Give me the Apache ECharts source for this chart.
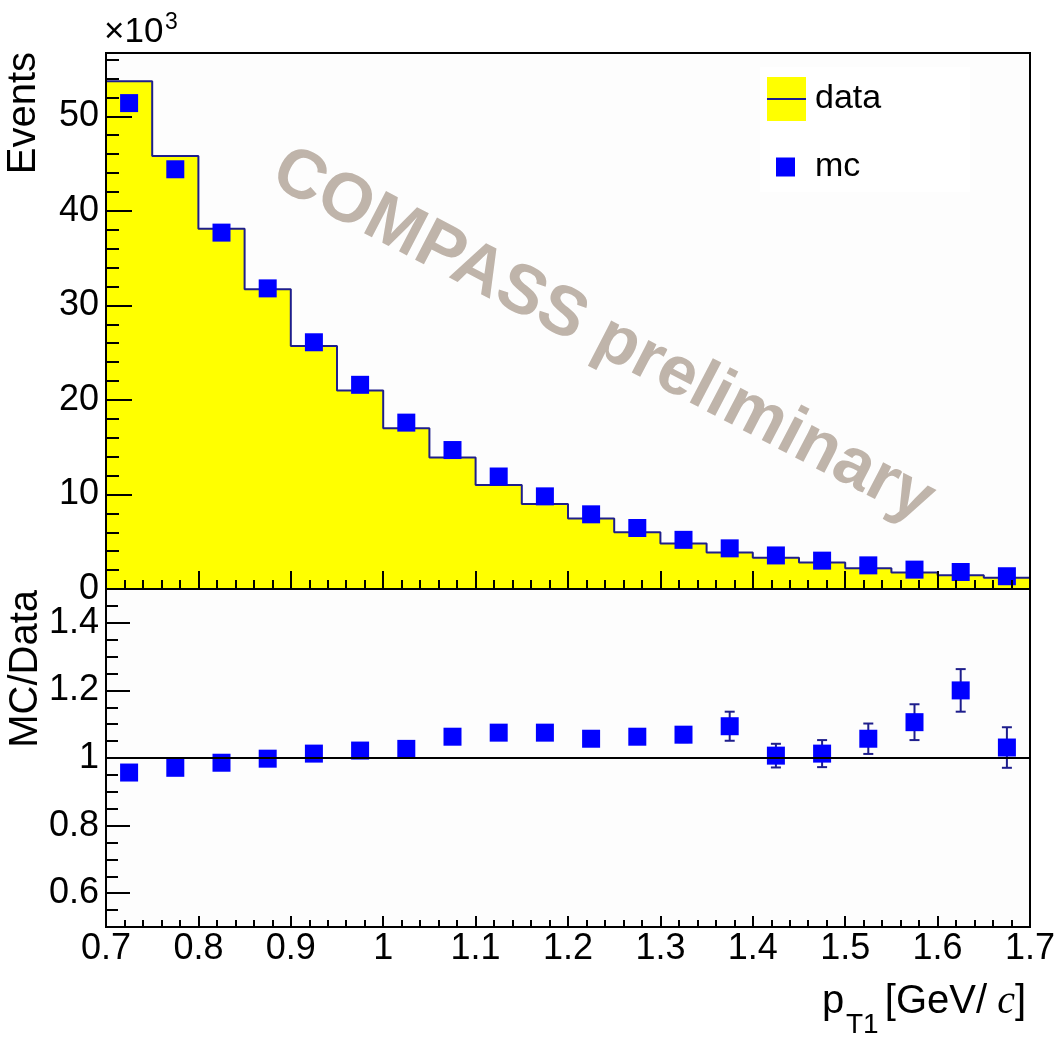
<!DOCTYPE html>
<html>
<head>
<meta charset="utf-8">
<script src="https://cdn.jsdelivr.net/npm/echarts@6/dist/echarts.min.js"></script>
<style>
  html, body { margin: 0; padding: 0; background: #ffffff; }
  #chart { width: 1059px; height: 1039px; }
</style>
</head>
<body>
<div id="chart"></div>
<script>
// p_T1 binning: 20 bins of 0.05 GeV/c between 0.7 and 1.7
const binLow    = [0.70, 0.75, 0.80, 0.85, 0.90, 0.95, 1.00, 1.05, 1.10, 1.15,
                   1.20, 1.25, 1.30, 1.35, 1.40, 1.45, 1.50, 1.55, 1.60, 1.65];
const binCenter = [0.725, 0.775, 0.825, 0.875, 0.925, 0.975, 1.025, 1.075, 1.125, 1.175,
                   1.225, 1.275, 1.325, 1.375, 1.425, 1.475, 1.525, 1.575, 1.625, 1.675];
const binHighEdge = 1.7;

// Event counts, in units of 10^3
const dataCounts = [53.7, 45.8, 38.1, 31.7, 25.7, 21.0, 17.0, 13.9, 11.0, 9.0,
                    7.45, 6.0, 4.8, 3.85, 3.3, 2.8, 2.2, 1.75, 1.45, 1.2];
const mcCounts   = [51.4, 44.4, 37.7, 31.8, 26.1, 21.6, 17.6, 14.7, 11.9, 9.8,
                    7.9, 6.45, 5.2, 4.3, 3.55, 3.0, 2.5, 2.05, 1.8, 1.35];

// MC/Data ratio and its statistical uncertainty
const ratio    = [0.957, 0.971, 0.986, 0.998, 1.013, 1.022, 1.027, 1.063, 1.075, 1.075,
                  1.057, 1.063, 1.069, 1.094, 1.007, 1.013, 1.057, 1.106, 1.200, 1.031];
const ratioErr = [0.004, 0.005, 0.005, 0.006, 0.007, 0.008, 0.009, 0.010, 0.012, 0.014,
                  0.016, 0.019, 0.022, 0.043, 0.035, 0.040, 0.045, 0.053, 0.063, 0.060];

// Axis tick values
const eventsTicks = [0, 10, 20, 30, 40, 50];
const ratioTicks  = [0.6, 0.8, 1, 1.2, 1.4];

const FONT = '"Liberation Sans", Arial, Helvetica, sans-serif';
const NAVY = '#1e1e8c';
const BLUE = '#0000ff';
const YELLOW = '#ffff00';
const blackLine = { color: '#000', width: 2 };

const histPoints = binLow.map((x, i) => [x, dataCounts[i]]);
histPoints.push([binHighEdge, dataCounts[dataCounts.length - 1]]);

const mcPoints = binCenter.map((x, i) => [x, mcCounts[i]]);
const ratioPoints = binCenter.map((x, i) => [x, ratio[i]]);
const errPoints = binCenter.map((x, i) => [x, ratio[i] - ratioErr[i], ratio[i] + ratioErr[i]]);

function renderErrorBar(params, api) {
  const x = api.value(0);
  const lo = api.coord([x, api.value(1)]);
  const hi = api.coord([x, api.value(2)]);
  const cap = 5;
  const style = { stroke: NAVY, lineWidth: 2 };
  return {
    type: 'group',
    children: [
      { type: 'line', shape: { x1: lo[0], y1: lo[1], x2: hi[0], y2: hi[1] }, style },
      { type: 'line', shape: { x1: lo[0] - cap, y1: lo[1], x2: lo[0] + cap, y2: lo[1] }, style },
      { type: 'line', shape: { x1: hi[0] - cap, y1: hi[1], x2: hi[0] + cap, y2: hi[1] }, style }
    ]
  };
}

function xAxisCfg(gridIndex, major, minor, showLabels) {
  return {
    gridIndex, type: 'value', min: 0.7, max: 1.7, interval: 0.1, z: 5,
    axisLine: { show: true, lineStyle: blackLine },
    axisTick: { show: true, inside: true, length: major, lineStyle: blackLine },
    minorTick: { show: true, splitNumber: 5, length: minor, lineStyle: blackLine },
    axisLabel: { show: showLabels, fontSize: 36, fontFamily: FONT, color: '#000', margin: 4 },
    splitLine: { show: false }, minorSplitLine: { show: false }
  };
}

const option = {
  animation: false,
  backgroundColor: '#ffffff',
  grid: [
    { left: 106, right: 29, top: 53, height: 536, show: true,
      backgroundColor: '#fdfdfd', borderColor: '#000', borderWidth: 2 },
    { left: 106, right: 29, top: 589, height: 338, show: true,
      backgroundColor: '#fdfdfd', borderColor: '#000', borderWidth: 2 }
  ],
  xAxis: [
    xAxisCfg(0, 18, 9, false),
    xAxisCfg(1, 11, 7, true)
  ],
  yAxis: [
    // upper panel: major ticks and labels
    { gridIndex: 0, type: 'value', position: 'left', min: 0, max: 56.7, z: 5,
      axisLine: { show: true, lineStyle: blackLine },
      axisTick: { show: true, inside: true, length: 26, customValues: eventsTicks, lineStyle: blackLine },
      axisLabel: { customValues: eventsTicks, fontSize: 36, fontFamily: FONT, color: '#000', margin: 7 },
      splitLine: { show: false } },
    // upper panel: minor ticks every 2k
    { gridIndex: 0, type: 'value', position: 'left', min: 0, max: 56.7, interval: 2, z: 5,
      axisLine: { show: false },
      axisTick: { show: true, inside: true, length: 13, lineStyle: blackLine },
      axisLabel: { show: false }, splitLine: { show: false } },
    // ratio panel: major ticks and labels
    { gridIndex: 1, type: 'value', position: 'left', min: 0.5, max: 1.5, z: 5,
      axisLine: { show: true, lineStyle: blackLine },
      axisTick: { show: true, inside: true, length: 24, customValues: ratioTicks, lineStyle: blackLine },
      axisLabel: { customValues: ratioTicks, fontSize: 36, fontFamily: FONT, color: '#000', margin: 7 },
      splitLine: { show: false } },
    // ratio panel: minor ticks every 0.05
    { gridIndex: 1, type: 'value', position: 'left', min: 0.5, max: 1.5, interval: 0.05, z: 5,
      axisLine: { show: false },
      axisTick: { show: true, inside: true, length: 12, lineStyle: blackLine },
      axisLabel: { show: false }, splitLine: { show: false } }
  ],
  legend: [
    { data: [{ name: 'data', icon: 'rect', itemStyle: { color: YELLOW, borderWidth: 0 } }],
      left: 767, top: 77, itemWidth: 39, itemHeight: 44, padding: 0, selectedMode: false, z: 6,
      textStyle: { fontSize: 34, fontFamily: FONT, color: '#000', padding: [0, 0, 0, 4] } },
    { data: [{ name: 'mc', icon: 'rect', itemStyle: { color: BLUE, borderWidth: 0, opacity: 1 } }],
      left: 776, top: 150, itemWidth: 19, itemHeight: 19, padding: 0, selectedMode: false, z: 6,
      textStyle: { fontSize: 34, fontFamily: FONT, color: '#000', padding: [0, 0, 0, 15] } }
  ],
  series: [
    { name: 'data', type: 'line', xAxisIndex: 0, yAxisIndex: 0, step: 'end',
      data: histPoints, symbol: 'none', z: 2,
      lineStyle: { color: NAVY, width: 2 },
      itemStyle: { color: YELLOW },
      areaStyle: { color: YELLOW, opacity: 1, origin: 'start' } },
    { name: 'mc', type: 'scatter', xAxisIndex: 0, yAxisIndex: 0,
      data: mcPoints, symbol: 'rect', symbolSize: 18, z: 4,
      itemStyle: { color: BLUE, opacity: 1 } },
    { name: 'MC/Data error', type: 'custom', xAxisIndex: 1, yAxisIndex: 2,
      data: errPoints, renderItem: renderErrorBar, z: 3,
      markLine: { silent: true, symbol: 'none', label: { show: false },
        lineStyle: { color: '#000', width: 2, type: 'solid' },
        data: [{ yAxis: 1 }] } },
    { name: 'MC/Data', type: 'scatter', xAxisIndex: 1, yAxisIndex: 2,
      data: ratioPoints, symbol: 'rect', symbolSize: 18, z: 4,
      itemStyle: { color: BLUE, opacity: 1 } }
  ],
  graphic: [
    // legend box
    { type: 'rect', z: 3, shape: { x: 760, y: 67, width: 210, height: 125 },
      style: { fill: '#ffffff' } },
    { type: 'line', z: 10, shape: { x1: 767, y1: 99, x2: 806, y2: 99 },
      style: { stroke: NAVY, lineWidth: 2 } },
    // watermark
    { type: 'text', z: 10, x: 603, y: 336, rotation: -27.5 * Math.PI / 180,
      style: { text: 'COMPASS preliminary', fill: '#bfb4aa',
        font: 'bold 69px "Liberation Sans", Arial, sans-serif',
        align: 'center', verticalAlign: 'middle' } },
    // axis exponent
    { type: 'text', z: 10, x: 104, y: 50,
      style: { text: '×10', fill: '#000', font: '35px "Liberation Sans", Arial, sans-serif',
        align: 'left', verticalAlign: 'bottom' } },
    { type: 'text', z: 10, x: 165, y: 11,
      style: { text: '3', fill: '#000', font: '23px "Liberation Sans", Arial, sans-serif',
        align: 'left', verticalAlign: 'top' } },
    // axis titles
    { type: 'text', z: 10, x: 24, y: 52, rotation: Math.PI / 2,
      style: { text: 'Events', fill: '#000', font: '40px "Liberation Sans", Arial, sans-serif',
        align: 'right', verticalAlign: 'middle' } },
    { type: 'text', z: 10, x: 26, y: 590, rotation: Math.PI / 2,
      style: { text: 'MC/Data', fill: '#000', font: '40px "Liberation Sans", Arial, sans-serif',
        align: 'right', verticalAlign: 'middle' } },
    { type: 'text', z: 10, x: 1026, y: 1022,
      style: { text: '{n|[GeV/}{c| c}{n|]}', fill: '#000', align: 'right', verticalAlign: 'bottom',
        rich: {
          n: { fontSize: 40, fontFamily: FONT, fill: '#000' },
          c: { fontSize: 40, fontFamily: '"Liberation Serif", "Times New Roman", serif', fontStyle: 'italic', fill: '#000' }
        } } },
    { type: 'text', z: 10, x: 822, y: 1022,
      style: { text: 'p', fill: '#000', font: '40px "Liberation Sans", Arial, sans-serif',
        align: 'left', verticalAlign: 'bottom' } },
    { type: 'text', z: 10, x: 846, y: 1039,
      style: { text: 'T1', fill: '#000', font: '28px "Liberation Sans", Arial, sans-serif',
        align: 'left', verticalAlign: 'bottom' } }
  ]
};

const chart = echarts.init(document.getElementById('chart'), null, { renderer: 'canvas' });
chart.setOption(option);
</script>
</body>
</html>
